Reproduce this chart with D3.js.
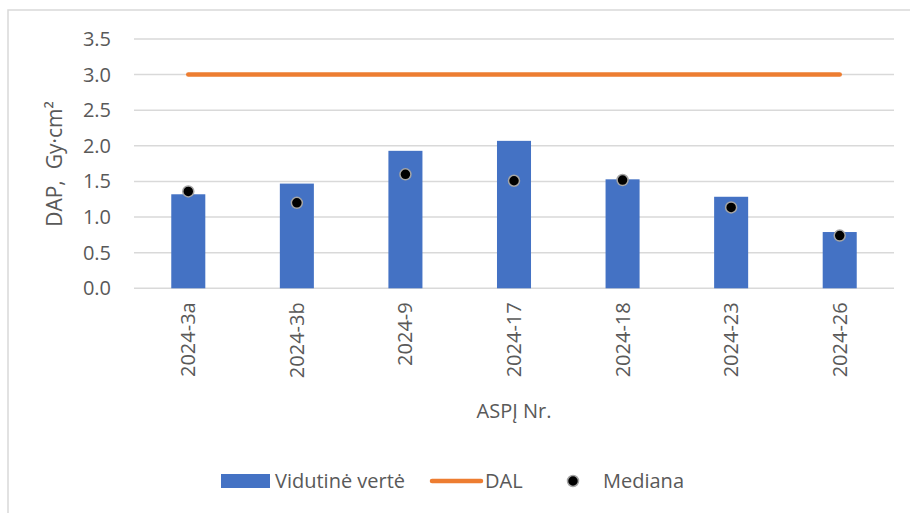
<!DOCTYPE html>
<html>
<head>
<meta charset="utf-8">
<script src="https://cdn.jsdelivr.net/npm/d3@7"></script>
<style>
  body { margin: 0; background: #fff; }
  text { font-family: "Open Sans", sans-serif; fill: #595959; }
</style>
</head>
<body>
<div id="chart"></div>
<script>
 //Data
 var categories = ["2024-3a", "2024-3b", "2024-9", "2024-17", "2024-18", "2024-23", "2024-26"];
 var meanValues = [1.32, 1.47, 1.93, 2.07, 1.53, 1.285, 0.79];
 var medianValues = [1.36, 1.20, 1.60, 1.51, 1.52, 1.135, 0.74];
 var dalValue = 3.0;
 var yTicks = [0, 0.5, 1, 1.5, 2, 2.5, 3, 3.5];

 //Margins and dimensions
 var margin = { top: 39, right: 16, bottom: 225, left: 134 },
     width = 894 - margin.left,
     height = 288.3 - margin.top;

 var root = d3.select("#chart")
     .append("svg")
     .attr("width", 910)
     .attr("height", 513);

 //Chart border
 root.append("rect")
     .attr("x", 8)
     .attr("y", 10)
     .attr("width", 920)
     .attr("height", 520)
     .attr("fill", "none")
     .attr("stroke", "#d9d9d9")
     .attr("stroke-width", 1.5);

 var svg = root.append("g")
     .attr("transform", "translate(" + margin.left + "," + margin.top + ")");

 //Scales
 var x = d3.scaleBand()
     .domain(categories)
     .range([0, width])
     .padding(0);

 var y = d3.scaleLinear()
     .domain([0, 3.5])
     .range([height, 0]);

 var barWidth = x.bandwidth() / 3.19;

 //Gridlines
 svg.append("g")
     .selectAll("line")
     .data(yTicks)
     .enter()
     .append("line")
     .attr("x1", 0)
     .attr("x2", width)
     .attr("y1", function (d) { return y(d); })
     .attr("y2", function (d) { return y(d); })
     .attr("stroke", "#d9d9d9")
     .attr("stroke-width", 1.5);

 //Y axis
 var yAxis = svg.append("g")
     .call(d3.axisLeft(y).tickValues(yTicks).tickFormat(d3.format(".1f")).tickSize(0).tickPadding(23));
 yAxis.select(".domain").remove();
 yAxis.selectAll("text")
     .style("font-size", "20px")
     .style("font-family", "'Open Sans', sans-serif")
     .attr("fill", "#595959");

 //X axis
 var xAxis = svg.append("g")
     .attr("transform", "translate(0," + height + ")")
     .call(d3.axisBottom(x).tickSize(0));
 xAxis.select(".domain").remove();
 xAxis.selectAll("text")
     .style("font-size", "20px")
     .style("font-family", "'Open Sans', sans-serif")
     .attr("fill", "#595959")
     .attr("transform", "rotate(-90)")
     .attr("text-anchor", "end")
     .attr("x", -14)
     .attr("y", 0)
     .attr("dy", "0.35em");

 //Bars
 svg.selectAll(".bar")
     .data(meanValues)
     .enter()
     .append("rect")
     .attr("class", "bar")
     .attr("x", function (d, i) { return x(categories[i]) + x.bandwidth() / 2 - barWidth / 2; })
     .attr("y", function (d) { return y(d); })
     .attr("width", barWidth)
     .attr("height", function (d) { return height - y(d); })
     .attr("fill", "#4472c4");

 //DAL line
 svg.append("line")
     .attr("x1", x(categories[0]) + x.bandwidth() / 2)
     .attr("x2", x(categories[categories.length - 1]) + x.bandwidth() / 2)
     .attr("y1", y(dalValue))
     .attr("y2", y(dalValue))
     .attr("stroke", "#ed7d31")
     .attr("stroke-width", 4.5)
     .attr("stroke-linecap", "round");

 //Median markers
 svg.selectAll(".median")
     .data(medianValues)
     .enter()
     .append("circle")
     .attr("class", "median")
     .attr("cx", function (d, i) { return x(categories[i]) + x.bandwidth() / 2; })
     .attr("cy", function (d) { return y(d); })
     .attr("r", 5.5)
     .attr("fill", "#000")
     .attr("stroke", "#a5a5a5")
     .attr("stroke-width", 1.5);

 //Y-Axis Label
 svg.append("text")
     .attr("transform", "rotate(-90)")
     .attr("x", -(164 - margin.top))
     .attr("y", 55 - margin.left + 7)
     .style("text-anchor", "middle")
     .style("font-size", "21px")
     .text("DAP,\u00a0\u00a0Gy·cm²");

 //X-Axis Label
 svg.append("text")
     .attr("x", width / 2)
     .attr("y", 418 - margin.top)
     .style("text-anchor", "middle")
     .style("font-size", "20px")
     .text("ASPĮ Nr.");

 //Legend
 var legend = root.append("g");
 legend.append("rect")
     .attr("x", 221).attr("y", 474)
     .attr("width", 49).attr("height", 14)
     .attr("fill", "#4472c4");
 legend.append("text")
     .attr("x", 275).attr("y", 481).attr("dy", "0.35em")
     .style("font-size", "20px")
     .text("Vidutinė vertė");
 legend.append("line")
     .attr("x1", 432).attr("x2", 481)
     .attr("y1", 481).attr("y2", 481)
     .attr("stroke", "#ed7d31")
     .attr("stroke-width", 4.5)
     .attr("stroke-linecap", "round");
 legend.append("text")
     .attr("x", 485).attr("y", 481).attr("dy", "0.35em")
     .style("font-size", "20px")
     .text("DAL");
 legend.append("circle")
     .attr("cx", 573).attr("cy", 481)
     .attr("r", 5.5)
     .attr("fill", "#000")
     .attr("stroke", "#a5a5a5")
     .attr("stroke-width", 1.5);
 legend.append("text")
     .attr("x", 603).attr("y", 481).attr("dy", "0.35em")
     .style("font-size", "20px")
     .text("Mediana");
</script>
</body>
</html>
